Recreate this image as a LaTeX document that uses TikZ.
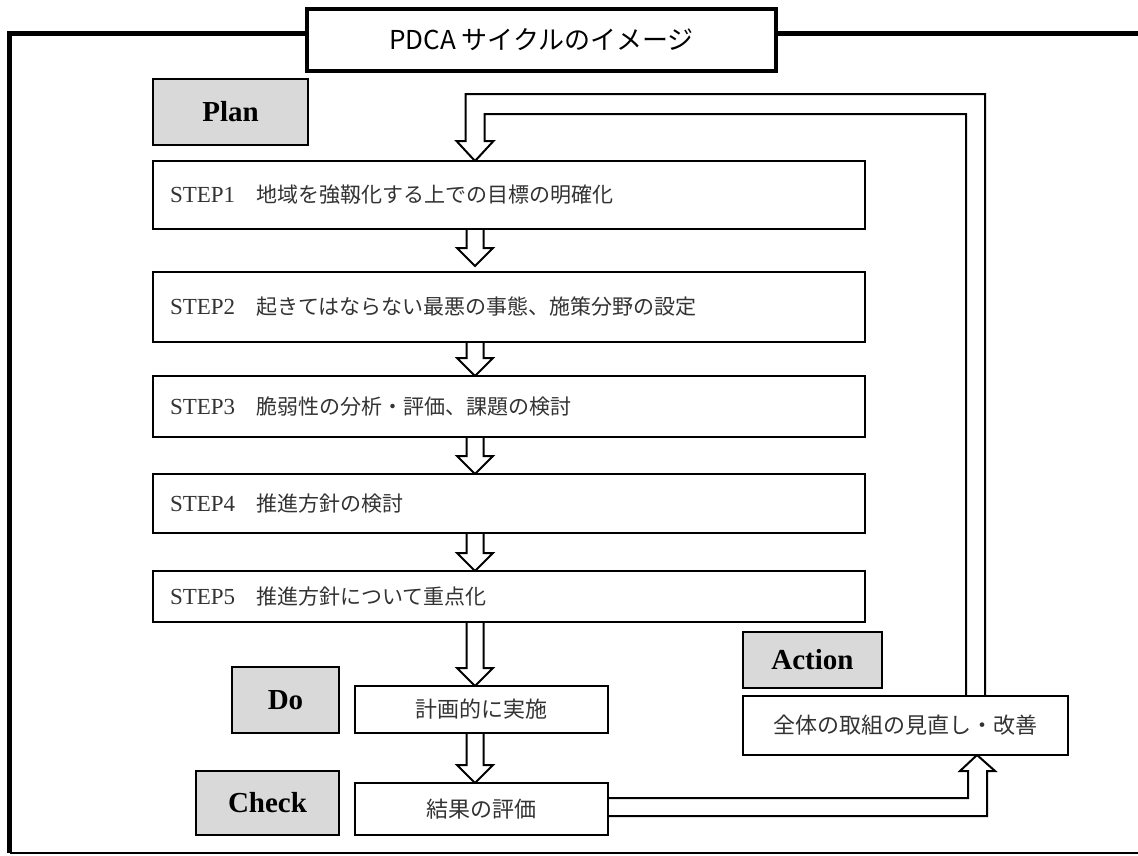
\documentclass[tikz,border=0pt]{standalone}
\usepackage{fontspec}
\setmainfont{Liberation Serif}
\newfontfamily\jp{Noto Sans CJK JP}
\usetikzlibrary{calc,backgrounds}
\definecolor{lab}{HTML}{D9D9D9}
\definecolor{jtxt}{HTML}{333333}
\tikzset{
 box/.style={draw, line width=2.5pt, fill=white, outer sep=0pt, inner sep=0pt},
 stepbox/.style={box, minimum height=#1, text width=678pt, inner xsep=17pt, align=left, text=jtxt, font=\fontsize{21}{25}\selectfont},
 labbox/.style={box, fill=lab, font=\bfseries\fontsize{29}{32}\selectfont},
 txtbox/.style={box, text=jtxt, font=\jp\fontsize{22}{26}\selectfont},
 blk/.style={draw, line width=2pt, fill=white, line join=miter},
}
\newcommand\stp[2]{{\fontsize{23}{25}\selectfont STEP#1}{\jp 　#2}}
\newcommand\vblk[3]{%
 \draw[blk] let \p1=(#1.south -| ax), \p2=(#2.north -| ax) in
 (\x1-8.5pt,\y1) -- (\x1-8.5pt,\y2+18pt+#3) -- (\x1-18pt,\y2+18pt+#3) -- (\x1,\y2+#3)
 -- (\x1+18pt,\y2+18pt+#3) -- (\x1+8.5pt,\y2+18pt+#3) -- (\x1+8.5pt,\y1);}
\begin{document}
\begin{tikzpicture}[x=1pt,y=-1pt]
\useasboundingbox (0,0) rectangle (1138,855);
\begin{pgfonlayer}{background}
\fill[white] (0,0) rectangle (1138,855);
\end{pgfonlayer}
% frame
\draw[line width=5pt] (1140,33) -- (9.5,33) -- (9.5,853);
\draw[line width=1.5pt] (9.5,853) -- (1140,853);
% title
\node[box, line width=3.5pt, minimum width=469pt, minimum height=62pt, font=\jp\fontsize{26}{30}\selectfont] (title) at (541.5,40) {PDCA サイクルのイメージ};
% labels
\node[labbox, minimum width=155pt, minimum height=66pt] (plan) at (230.5,112) {Plan};
\node[labbox, minimum width=107pt, minimum height=66pt] (do) at (285.5,700) {Do};
\node[labbox, minimum width=143pt, minimum height=64pt] (check) at (267.5,803) {Check};
\node[labbox, minimum width=139pt, minimum height=56pt] (action) at (812.5,660) {Action};
% steps
\node[stepbox=68pt] (s1) at (509,195) {\stp{1}{地域を強靱化する上での目標の明確化}};
\node[stepbox=70pt] (s2) at (509,307) {\stp{2}{起きてはならない最悪の事態、施策分野の設定}};
\node[stepbox=61pt] (s3) at (509,406.5) {\stp{3}{脆弱性の分析・評価、課題の検討}};
\node[stepbox=59pt] (s4) at (509,503.5) {\stp{4}{推進方針の検討}};
\node[stepbox=51pt] (s5) at (509,596.5) {\stp{5}{推進方針について重点化}};
% text boxes
\node[txtbox, minimum width=253pt, minimum height=47pt] (dot) at (481.5,709.5) {計画的に実施};
\node[txtbox, minimum width=253pt, minimum height=52pt] (chkt) at (481.5,809) {結果の評価};
\node[txtbox, minimum width=325pt, minimum height=59pt] (actt) at (905.5,725.5) {全体の取組の見直し・改善};
% helper coordinates
\coordinate (ax) at (475,0);
\coordinate (lx) at (975.5,0);
\coordinate (ux) at (977,0);
\begin{pgfonlayer}{background}
\vblk{s1}{s2}{6pt}
\vblk{s2}{s3}{0pt}
\vblk{s3}{s4}{0pt}
\vblk{s4}{s5}{0pt}
\vblk{s5}{dot}{0pt}
\vblk{dot}{chkt}{0pt}
% return loop
\draw[blk] let \p1=(actt.north -| lx), \p2=(s1.north -| ax) in
 (\x1-9.5pt,\y1) -- (\x1-9.5pt,\y2+47pt) -- (\x2+9.5pt,\y2+47pt) -- (\x2+9.5pt,\y2+20pt)
 -- (\x2+18.5pt,\y2+20pt) -- (\x2,\y2) -- (\x2-18.5pt,\y2+20pt) -- (\x2-9.5pt,\y2+20pt)
 -- (\x2-9.5pt,\y2+67pt) -- (\x1+9.5pt,\y2+67pt) -- (\x1+9.5pt,\y1);
% check -> action
\draw[blk] let \p1=(chkt.east), \p2=(actt.south -| ux) in
 (\x1,\y1+11pt) -- (\x2-9pt,\y1+11pt) -- (\x2-9pt,\y2-16pt) -- (\x2-17pt,\y2-16pt)
 -- (\x2,\y2) -- (\x2+18pt,\y2-16pt) -- (\x2+10pt,\y2-16pt) -- (\x2+10pt,\y1-7pt) -- (\x1,\y1-7pt);
\end{pgfonlayer}
\end{tikzpicture}
\end{document}
